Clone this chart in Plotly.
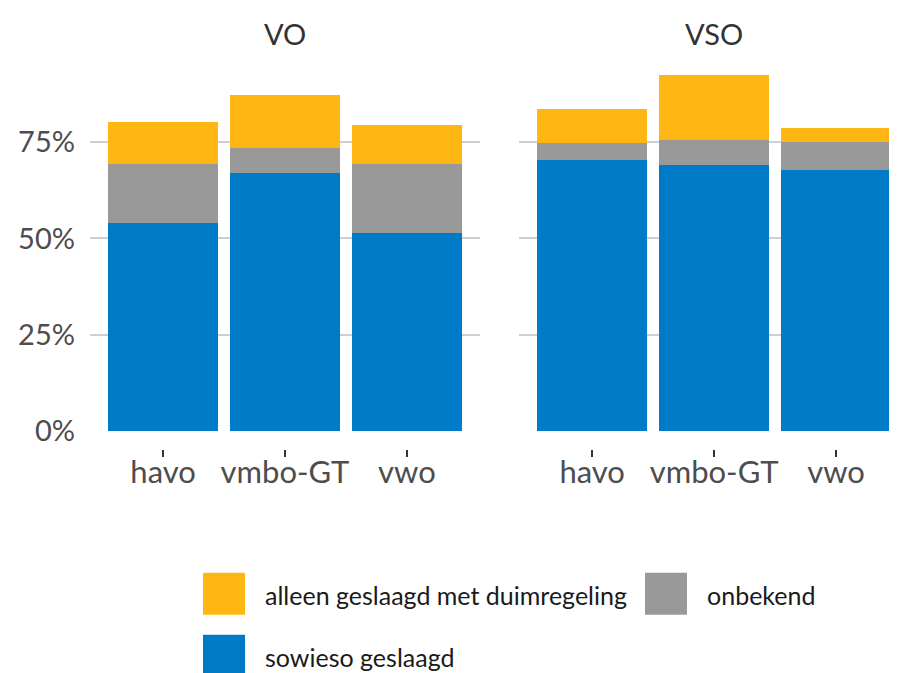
import plotly.graph_objects as go

# page body has an 8px margin; the captured page is also compressed vertically (689 -> 673)
OFF = 8
YS = 689 / 673
W, H = 889, 673

categories = ["havo", "vmbo-GT", "vwo"]
panels = ["VO", "VSO"]

series_names = ["sowieso geslaagd", "onbekend", "alleen geslaagd met duimregeling"]
series_colors = ["#007BC7", "#999999", "#FFB612"]

sowieso_VO = [54.0, 67.0, 51.3]
onbekend_VO = [15.3, 6.5, 18.1]
duim_VO = [10.8, 13.7, 10.1]

sowieso_VSO = [70.3, 69.1, 67.8]
onbekend_VSO = [4.5, 6.4, 7.1]
duim_VSO = [8.8, 16.9, 3.7]

y_tickvals = [0, 25, 50, 75]
y_ticktext = ["0%", "25%", "50%", "75%"]

panel_data = {
    "VO": [sowieso_VO, onbekend_VO, duim_VO],
    "VSO": [sowieso_VSO, onbekend_VSO, duim_VSO],
}

FONT = "Lato"
TXT = "#4D4D4D"

def px_x(p):
    return (p - OFF) / W

def px_y(p):
    return 1 - (p * YS - OFF) / H

fig = go.Figure()
for pi, panel in enumerate(panels):
    xa = "x" if pi == 0 else "x2"
    ya = "y" if pi == 0 else "y2"
    for si, name in enumerate(series_names):
        fig.add_trace(go.Bar(
            x=categories, y=panel_data[panel][si], name=name,
            marker=dict(color=series_colors[si], line=dict(width=0)),
            xaxis=xa, yaxis=ya, showlegend=False, hoverinfo="x+y+name",
        ))

axis_pos = px_y(449)
common_x = dict(
    type="category", showgrid=False, zeroline=False, showline=False,
    ticks="outside", ticklen=7, tickwidth=2, tickcolor="#333333",
    tickfont=dict(family=FONT, size=31, color=TXT), ticklabelstandoff=-11,
    anchor="free", position=axis_pos, fixedrange=True,
)
common_y = dict(
    domain=[px_y(431), px_y(61)], range=[0, 96],
    tickvals=y_tickvals,
    showgrid=True, gridcolor="#CFCFCF", gridwidth=2,
    zeroline=False, showline=False, ticks="", fixedrange=True,
)
fig.update_layout(
    width=W, height=H, margin=dict(l=0, r=0, t=0, b=0),
    paper_bgcolor="white", plot_bgcolor="white",
    barmode="stack", bargap=0.1,
    xaxis=dict(domain=[px_x(90), px_x(480)], range=[-0.6, 2.6], **common_x),
    xaxis2=dict(domain=[px_x(519), 1.0], range=[-0.6, 2.5], **common_x),
    yaxis=dict(anchor="x", ticktext=y_ticktext, ticklabelstandoff=14,
               tickfont=dict(family=FONT, size=29, color=TXT), **common_y),
    yaxis2=dict(anchor="x2", matches="y", showticklabels=False, **common_y),
    showlegend=False,
)

# panel titles
centers = [(90 + 480) / 2, (519 + 909) / 2]
for panel, cx in zip(panels, centers):
    fig.add_annotation(text=panel, x=px_x(cx), y=px_y(33), xref="paper", yref="paper",
                       showarrow=False, font=dict(family=FONT, size=29, color="#333333"),
                       xanchor="center", yanchor="middle")

# custom legend (key squares + labels)
legend_items = [
    (2, 203, 573, 263),
    (1, 645, 573, 705),
    (0, 203, 635, 263),
]
for si, x0, y0, tx in legend_items:
    fig.add_shape(type="rect", xref="paper", yref="paper",
                  x0=px_x(x0), x1=px_x(x0 + 42), y0=px_y(y0 + 42), y1=px_y(y0),
                  fillcolor=series_colors[si], line=dict(width=0))
    fig.add_annotation(text=series_names[si], x=px_x(tx), y=px_y(y0 + 22),
                       xref="paper", yref="paper", showarrow=False,
                       xanchor="left", yanchor="middle",
                       font=dict(family=FONT, size=25, color="#1A1A1A"))

fig.write_html("out.html")
